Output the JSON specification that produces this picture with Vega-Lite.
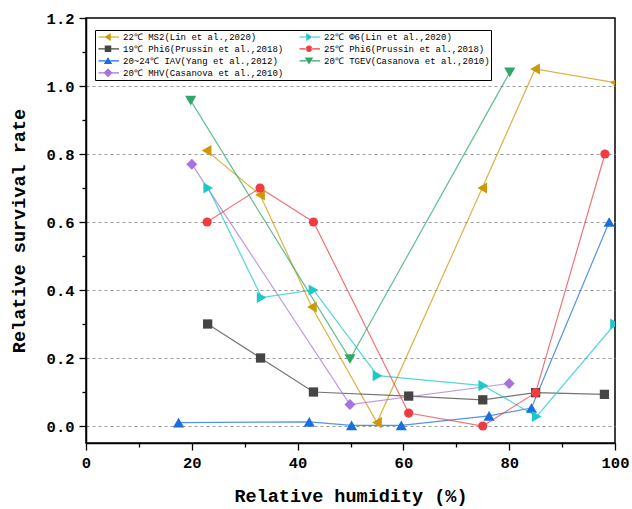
{
  "$schema": "https://vega.github.io/schema/vega-lite/v6.json",
  "autosize": {"type": "none"},
  "width": 529,
  "height": 425,
  "padding": {"left": 86, "top": 18, "right": 17, "bottom": 66},
  "background": "white",
  "config": {
    "view": {"stroke": "black", "strokeWidth": 1.5},
    "axis": {
      "labelFont": "Liberation Mono",
      "labelFontWeight": "bold",
      "labelFontSize": 15.5,
      "labelColor": "black",
      "titleFont": "Liberation Mono",
      "titleFontWeight": "bold",
      "titleFontSize": 18.5,
      "titleColor": "black",
      "domainColor": "black",
      "domainWidth": 1.5,
      "tickColor": "black",
      "tickWidth": 1.3
    },
    "legend": {"orient": "none", "legendX": 9, "legendY": 12, "columns": 2, "strokeColor": "black", "fillColor": "white", "padding": 1, "symbolSize": 100, "symbolOffset": 6, "labelOffset": 9, "rowPadding": 0, "clipHeight": 11.6, "columnPadding": 13, "labelLimit": 400, "labelFont": "Liberation Mono", "labelFontSize": 9.0, "labelColor": "black", "symbolOpacity": 1}
  },
  "data": {
    "values": [
      {"s": "22℃ MS2(Lin et al.,2020)", "rh": 22.8, "rate": 0.81},
      {"s": "22℃ MS2(Lin et al.,2020)", "rh": 32.9, "rate": 0.68},
      {"s": "22℃ MS2(Lin et al.,2020)", "rh": 42.7, "rate": 0.35},
      {"s": "22℃ MS2(Lin et al.,2020)", "rh": 55.0, "rate": 0.01},
      {"s": "22℃ MS2(Lin et al.,2020)", "rh": 74.9, "rate": 0.70},
      {"s": "22℃ MS2(Lin et al.,2020)", "rh": 84.9, "rate": 1.05},
      {"s": "22℃ MS2(Lin et al.,2020)", "rh": 100, "rate": 1.01},
      {"s": "19℃ Phi6(Prussin et al.,2018)", "rh": 23.0, "rate": 0.30},
      {"s": "19℃ Phi6(Prussin et al.,2018)", "rh": 33.0, "rate": 0.20},
      {"s": "19℃ Phi6(Prussin et al.,2018)", "rh": 43.0, "rate": 0.10},
      {"s": "19℃ Phi6(Prussin et al.,2018)", "rh": 61.0, "rate": 0.088},
      {"s": "19℃ Phi6(Prussin et al.,2018)", "rh": 75.0, "rate": 0.077},
      {"s": "19℃ Phi6(Prussin et al.,2018)", "rh": 85.0, "rate": 0.098},
      {"s": "19℃ Phi6(Prussin et al.,2018)", "rh": 98.0, "rate": 0.093},
      {"s": "20~24℃ IAV(Yang et al.,2012)", "rh": 17.5, "rate": 0.01},
      {"s": "20~24℃ IAV(Yang et al.,2012)", "rh": 42.2, "rate": 0.012},
      {"s": "20~24℃ IAV(Yang et al.,2012)", "rh": 50.2, "rate": 0.002},
      {"s": "20~24℃ IAV(Yang et al.,2012)", "rh": 59.6, "rate": 0.002},
      {"s": "20~24℃ IAV(Yang et al.,2012)", "rh": 76.2, "rate": 0.03},
      {"s": "20~24℃ IAV(Yang et al.,2012)", "rh": 84.2, "rate": 0.053},
      {"s": "20~24℃ IAV(Yang et al.,2012)", "rh": 98.9, "rate": 0.60},
      {"s": "20℃ MHV(Casanova et al.,2010)", "rh": 20.0, "rate": 0.77},
      {"s": "20℃ MHV(Casanova et al.,2010)", "rh": 49.9, "rate": 0.063},
      {"s": "20℃ MHV(Casanova et al.,2010)", "rh": 80.0, "rate": 0.125},
      {"s": "22℃ Φ6(Lin et al.,2020)", "rh": 23.1, "rate": 0.70},
      {"s": "22℃ Φ6(Lin et al.,2020)", "rh": 33.2, "rate": 0.378},
      {"s": "22℃ Φ6(Lin et al.,2020)", "rh": 43.0, "rate": 0.40},
      {"s": "22℃ Φ6(Lin et al.,2020)", "rh": 55.1, "rate": 0.148},
      {"s": "22℃ Φ6(Lin et al.,2020)", "rh": 75.1, "rate": 0.119},
      {"s": "22℃ Φ6(Lin et al.,2020)", "rh": 85.2, "rate": 0.028},
      {"s": "22℃ Φ6(Lin et al.,2020)", "rh": 100, "rate": 0.30},
      {"s": "25℃ Phi6(Prussin et al.,2018)", "rh": 22.9, "rate": 0.60},
      {"s": "25℃ Phi6(Prussin et al.,2018)", "rh": 32.9, "rate": 0.70},
      {"s": "25℃ Phi6(Prussin et al.,2018)", "rh": 43.0, "rate": 0.60},
      {"s": "25℃ Phi6(Prussin et al.,2018)", "rh": 61.0, "rate": 0.038},
      {"s": "25℃ Phi6(Prussin et al.,2018)", "rh": 75.0, "rate": 0.0},
      {"s": "25℃ Phi6(Prussin et al.,2018)", "rh": 85.0, "rate": 0.098},
      {"s": "25℃ Phi6(Prussin et al.,2018)", "rh": 98.1, "rate": 0.80},
      {"s": "20℃ TGEV(Casanova et al.,2010)", "rh": 19.8, "rate": 0.957},
      {"s": "20℃ TGEV(Casanova et al.,2010)", "rh": 49.9, "rate": 0.197},
      {"s": "20℃ TGEV(Casanova et al.,2010)", "rh": 80.1, "rate": 1.04}
    ]
  },
  "encoding": {
    "x": {
      "field": "rh", "type": "quantitative",
      "scale": {"domain": [0, 100], "nice": false, "zero": false},
      "axis": {
        "title": "Relative humidity (%)",
        "values": [0, 10, 20, 30, 40, 50, 60, 70, 80, 90, 100],
        "labelExpr": "datum.value % 20 === 0 ? datum.label : ''",
        "tickSize": {"condition": {"test": "datum.value % 20 === 0", "value": 7}, "value": 4},
        "grid": false,
        "labelPadding": 5,
        "titlePadding": 16,
        "labelFlush": false
      }
    },
    "y": {
      "field": "rate", "type": "quantitative",
      "scale": {"domain": [-0.05, 1.2], "nice": false, "zero": false},
      "axis": {
        "title": "Relative survival rate",
        "values": [0, 0.1, 0.2, 0.3, 0.4, 0.5, 0.6, 0.7, 0.8, 0.9, 1.0, 1.1, 1.2],
        "format": ".1f",
        "labelExpr": "round(datum.value * 10) % 2 === 0 ? datum.label : ''",
        "tickSize": {"condition": {"test": "round(datum.value * 10) % 2 === 0", "value": 7}, "value": 4},
        "grid": true,
        "gridColor": "#9a9a9a",
        "gridDash": [3, 3],
        "gridWidth": 1,
        "gridOpacity": {"condition": {"test": "round(datum.value * 10) % 2 === 0 && datum.value < 1.15", "value": 1}, "value": 0},
        "labelPadding": 5,
        "titlePadding": 18,
        "labelFlush": false
      }
    }
  },
  "layer": [
    {
      "mark": {"type": "line", "strokeWidth": 1.2, "opacity": 0.75, "clip": true},
      "encoding": {
        "stroke": {
          "field": "s", "type": "nominal", "legend": null,
          "scale": {
            "domain": ["22℃ MS2(Lin et al.,2020)", "19℃ Phi6(Prussin et al.,2018)", "20~24℃ IAV(Yang et al.,2012)", "20℃ MHV(Casanova et al.,2010)", "22℃ Φ6(Lin et al.,2020)", "25℃ Phi6(Prussin et al.,2018)", "20℃ TGEV(Casanova et al.,2010)"],
            "range": ["#CC9A06", "#454545", "#1A6FE0", "#A873DD", "#1CC8CC", "#E8454A", "#2EA86A"]
          }
        },
        "order": {"field": "rh", "type": "quantitative"}
      }
    },
    {
      "transform": [{"filter": {"field": "s", "equal": "22℃ MS2(Lin et al.,2020)"}}],
      "mark": {"type": "point", "filled": true, "opacity": 1, "strokeWidth": 0, "clip": true, "shape": "triangle-left", "size": 125, "color": "#CC9A06"},
      "encoding": {}
    },
    {
      "transform": [{"filter": {"field": "s", "equal": "19℃ Phi6(Prussin et al.,2018)"}}],
      "mark": {"type": "point", "filled": true, "opacity": 1, "strokeWidth": 0, "clip": true, "shape": "square", "size": 86, "color": "#454545"},
      "encoding": {}
    },
    {
      "transform": [{"filter": {"field": "s", "equal": "20~24℃ IAV(Yang et al.,2012)"}}],
      "mark": {"type": "point", "filled": true, "opacity": 1, "strokeWidth": 0, "clip": true, "shape": "triangle-up", "size": 125, "color": "#1A6FE0"},
      "encoding": {}
    },
    {
      "transform": [{"filter": {"field": "s", "equal": "20℃ MHV(Casanova et al.,2010)"}}],
      "mark": {"type": "point", "filled": true, "opacity": 1, "strokeWidth": 0, "clip": true, "shape": "diamond", "size": 121, "color": "#A873DD"},
      "encoding": {}
    },
    {
      "transform": [{"filter": {"field": "s", "equal": "22℃ Φ6(Lin et al.,2020)"}}],
      "mark": {"type": "point", "filled": true, "opacity": 1, "strokeWidth": 0, "clip": true, "shape": "triangle-right", "size": 125, "color": "#1CC8CC"},
      "encoding": {}
    },
    {
      "transform": [{"filter": {"field": "s", "equal": "25℃ Phi6(Prussin et al.,2018)"}}],
      "mark": {"type": "point", "filled": true, "opacity": 1, "strokeWidth": 0, "clip": true, "shape": "circle", "size": 85, "color": "#F03C40"},
      "encoding": {}
    },
    {
      "transform": [{"filter": {"field": "s", "equal": "20℃ TGEV(Casanova et al.,2010)"}}],
      "mark": {"type": "point", "filled": true, "opacity": 1, "strokeWidth": 0, "clip": true, "shape": "triangle-down", "size": 125, "color": "#2EA86A"},
      "encoding": {}
    },
    {
      "mark": {"type": "point", "filled": true, "strokeWidth": 0, "opacity": 0},
      "encoding": {
        "color": {
          "field": "s", "type": "nominal", "title": null,
          "scale": {
            "domain": ["22℃ MS2(Lin et al.,2020)", "19℃ Phi6(Prussin et al.,2018)", "20~24℃ IAV(Yang et al.,2012)", "20℃ MHV(Casanova et al.,2010)", "22℃ Φ6(Lin et al.,2020)", "25℃ Phi6(Prussin et al.,2018)", "20℃ TGEV(Casanova et al.,2010)"],
            "range": ["#CC9A06", "#454545", "#1A6FE0", "#A873DD", "#1CC8CC", "#F03C40", "#2EA86A"]
          }
        },
        "shape": {
          "field": "s", "type": "nominal", "title": null,
          "scale": {
            "domain": ["22℃ MS2(Lin et al.,2020)", "19℃ Phi6(Prussin et al.,2018)", "20~24℃ IAV(Yang et al.,2012)", "20℃ MHV(Casanova et al.,2010)", "22℃ Φ6(Lin et al.,2020)", "25℃ Phi6(Prussin et al.,2018)", "20℃ TGEV(Casanova et al.,2010)"],
            "range": [
              "M-1.9,-0.12H-0.5V0.12H-1.9ZM0.5,-0.12H2.2V0.12H0.5ZM-0.7,0L0.55,-0.8L0.55,0.8Z",
              "M-1.9,-0.12H-0.5V0.12H-1.9ZM0.5,-0.12H2.2V0.12H0.5ZM-0.65,-0.65H0.65V0.65H-0.65Z",
              "M-1.9,-0.12H-0.5V0.12H-1.9ZM0.5,-0.12H2.2V0.12H0.5ZM0,-0.75L0.85,0.65L-0.85,0.65Z",
              "M-1.9,-0.12H-0.5V0.12H-1.9ZM0.5,-0.12H2.2V0.12H0.5ZM0,-0.9L0.9,0L0,0.9L-0.9,0Z",
              "M-1.9,-0.12H-0.5V0.12H-1.9ZM0.5,-0.12H2.2V0.12H0.5ZM0.7,0L-0.55,-0.8L-0.55,0.8Z",
              "M-1.9,-0.12H-0.5V0.12H-1.9ZM0.5,-0.12H2.2V0.12H0.5ZM-0.65,0A0.65,0.65,0,1,0,0.65,0A0.65,0.65,0,1,0,-0.65,0Z",
              "M-1.9,-0.12H-0.5V0.12H-1.9ZM0.5,-0.12H2.2V0.12H0.5ZM0,0.75L0.85,-0.65L-0.85,-0.65Z"
            ]
          }
        }
      }
    }
  ],
  "resolve": {
    "scale": {"shape": "independent", "color": "independent"},
    "legend": {"shape": "independent", "color": "independent"}
  }
}
